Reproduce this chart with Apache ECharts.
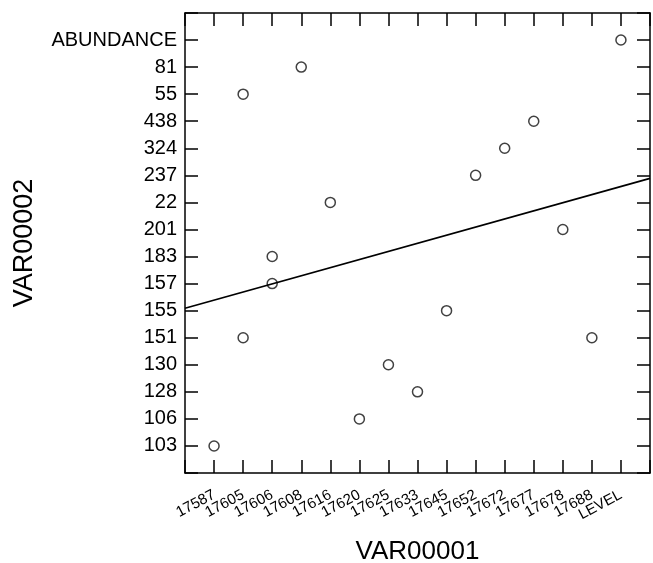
<!DOCTYPE html>
<html>
<head>
<meta charset="utf-8">
<script src="https://cdn.jsdelivr.net/npm/echarts@6/dist/echarts.min.js"></script>
<style>
  html, body { margin: 0; padding: 0; background: #fff; }
  #chart { width: 653px; height: 563px; }
</style>
</head>
<body>
<div id="chart"></div>
<script>
// categories on each axis, in the order they appear
var xCats = ['17587', '17605', '17606', '17608', '17616', '17620', '17625', '17633',
             '17645', '17652', '17672', '17677', '17678', '17688', 'LEVEL'];
// bottom to top
var yCats = ['103', '106', '128', '130', '151', '155', '157', '183',
             '201', '22', '237', '324', '438', '55', '81', 'ABUNDANCE'];

// observed points (VAR00001, VAR00002)
var pointX = ['17587', '17605', '17605', '17606', '17606', '17608', '17616', '17620', '17625',
              '17633', '17645', '17652', '17672', '17677', '17678', '17688', 'LEVEL'];
var pointY = ['103', '151', '55', '157', '183', '81', '22', '106', '130',
              '128', '155', '237', '324', '438', '201', '151', 'ABUNDANCE'];

var FONT = 'Liberation Sans, Arial, Helvetica, sans-serif';

function buildPoints() {
    var pts = [];
    for (var i = 0; i < pointX.length; i++) {
        pts.push([xCats.indexOf(pointX[i]), yCats.indexOf(pointY[i])]);
    }
    return pts;
}

// least squares fit line, drawn across the whole plot
function fitLine(pts, x0, x1) {
    var n = pts.length, sx = 0, sy = 0, sxy = 0, sxx = 0;
    pts.forEach(function(p) {
        sx += p[0]; sy += p[1]; sxy += p[0] * p[1]; sxx += p[0] * p[0];
    });
    var b = (sxy - sx * sy / n) / (sxx - sx * sx / n);
    var a = sy / n - b * sx / n;
    return [[x0, a + b * x0], [x1, a + b * x1]];
}

var points = buildPoints();
var xMin = -1, xMax = xCats.length;
var yMin = -1, yMax = yCats.length;

var tick = { show: true, inside: true, length: 13, lineStyle: { color: '#000', width: 1.5 } };
var line = { show: true, onZero: false, lineStyle: { color: '#000', width: 1.5 } };

var chart = echarts.init(document.getElementById('chart'));
var option = {
    animation: false,
    backgroundColor: '#fff',
    grid: { left: 185, top: 13, right: 3, bottom: 90, containLabel: false, outerBoundsMode: 'none' },
    xAxis: [{
        type: 'value', position: 'bottom',
        min: xMin, max: xMax, interval: 1,
        axisLine: line, axisTick: tick, splitLine: { show: false },
        axisLabel: {
            rotate: 28, margin: 21, hideOverlap: false,
            fontFamily: FONT, fontSize: 15, color: '#000',
            formatter: function(v) { return xCats[v] || ''; }
        },
        name: 'VAR00001', nameLocation: 'middle', nameGap: 66,
        nameTextStyle: { fontFamily: FONT, fontSize: 26, color: '#000' }
    }, {
        type: 'value', position: 'top',
        min: xMin, max: xMax, interval: 1,
        axisLine: line, axisTick: tick, splitLine: { show: false },
        axisLabel: { show: false }
    }],
    yAxis: [{
        type: 'value', position: 'left',
        min: yMin, max: yMax, interval: 1,
        axisLine: line, axisTick: tick, splitLine: { show: false },
        axisLabel: {
            margin: 8, hideOverlap: false,
            fontFamily: FONT, fontSize: 20, color: '#000',
            formatter: function(v) { return yCats[v] || ''; }
        },
        name: 'VAR00002', nameLocation: 'middle', nameGap: 147,
        nameTextStyle: { fontFamily: FONT, fontSize: 27, color: '#000' }
    }, {
        type: 'value', position: 'right',
        min: yMin, max: yMax, interval: 1,
        axisLine: line, axisTick: tick, splitLine: { show: false },
        axisLabel: { show: false }
    }],
    series: [{
        type: 'line',
        data: fitLine(points, xMin, xMax),
        symbol: 'none',
        lineStyle: { color: '#000', width: 1.7 },
        silent: true
    }, {
        type: 'scatter',
        data: points,
        symbol: 'circle',
        symbolSize: 10,
        itemStyle: { color: 'transparent', borderColor: '#111', borderWidth: 1.5 }
    }]
};
chart.setOption(option);
</script>
</body>
</html>
